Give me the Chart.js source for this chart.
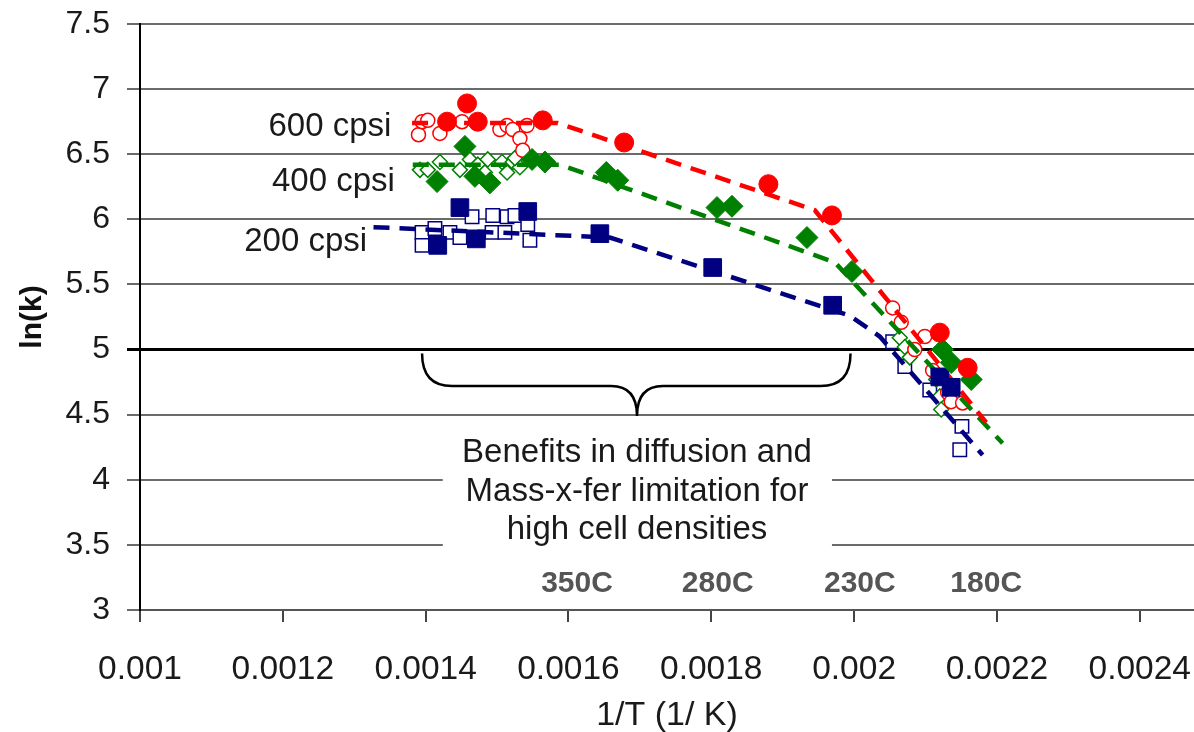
<!DOCTYPE html>
<html>
<head>
<meta charset="utf-8">
<script src="https://cdn.jsdelivr.net/npm/chart.js@4.4.1/dist/chart.umd.min.js"></script>
<style>
  html, body { margin: 0; padding: 0; background: #fff; overflow: hidden; }
  #wrap { width: 1194px; height: 732px; }
</style>
</head>
<body>
<div id="wrap"><canvas id="arrhenius"></canvas></div>
<script>
// values: x = 1/T (1/K), y = ln(k)
const red600SolidX = [0.00143, 0.001458, 0.001473, 0.001564, 0.001678, 0.00188, 0.001969, 0.00212, 0.002159];
const red600SolidY = [6.75, 6.89, 6.75, 6.76, 6.59, 6.27, 6.03, 5.13, 4.86];
const red600OpenX = [0.00139, 0.001395, 0.001403, 0.00142, 0.001451, 0.001504, 0.001514, 0.001522, 0.001532, 0.001536, 0.001542,
                     0.002054, 0.002066, 0.002099, 0.002085, 0.00211, 0.002131, 0.002136, 0.002152];
const red600OpenY = [6.65, 6.75, 6.76, 6.66, 6.75, 6.69, 6.72, 6.69, 6.62, 6.53, 6.72,
                     5.32, 5.21, 5.10, 5.00, 4.84, 4.67, 4.60, 4.59];
const red600FitX = [0.001381, 0.001585, 0.001945, 0.002185];
const red600FitY = [6.74, 6.74, 6.07, 4.44];

const green400SolidX = [0.001455, 0.001416, 0.001469, 0.00149, 0.001549, 0.001567, 0.001653, 0.001669, 0.001808, 0.001829,
                        0.001934, 0.001997, 0.002124, 0.002136, 0.002164];
const green400SolidY = [6.56, 6.29, 6.33, 6.28, 6.46, 6.44, 6.36, 6.30, 6.09, 6.10, 5.86, 5.60, 5.00, 4.90, 4.77];
const green400OpenX = [0.001392, 0.001403, 0.00142, 0.001448, 0.001462, 0.001473, 0.001487, 0.001483, 0.001507, 0.001514,
                       0.001522, 0.001532, 0.001525, 0.002064, 0.002071, 0.002078, 0.002115, 0.00212, 0.002122];
const green400OpenY = [6.38, 6.38, 6.44, 6.38, 6.46, 6.42, 6.46, 6.36, 6.44, 6.36, 6.44, 6.40, 6.47, 5.09, 5.02, 4.94, 4.77, 4.64, 4.54];
const green400FitX = [0.001382, 0.001588, 0.001973, 0.002208];
const green400FitY = [6.42, 6.42, 5.67, 4.28];

const blue200SolidX = [0.001448, 0.001417, 0.001471, 0.001543, 0.001644, 0.001802, 0.00197, 0.00212, 0.002136];
const blue200SolidY = [6.09, 5.80, 5.85, 6.06, 5.89, 5.63, 5.34, 4.79, 4.71];
const blue200OpenX = [0.001395, 0.001395, 0.001413, 0.001434, 0.001448, 0.001465, 0.001494, 0.001514, 0.001493, 0.001511,
                      0.001525, 0.001543, 0.001546, 0.002054, 0.002071, 0.002106, 0.002151, 0.002148];
const blue200OpenY = [5.90, 5.80, 5.93, 5.90, 5.86, 6.02, 6.03, 6.02, 5.90, 5.90, 6.03, 5.96, 5.84, 5.06, 4.87, 4.69, 4.41, 4.23];
const blue200FitX = [0.001327, 0.001658, 0.001994, 0.002036, 0.00218];
const blue200FitY = [5.94, 5.86, 5.26, 5.10, 4.19];

// text placed on the plot (data coordinates)
const seriesLabels = ['600 cpsi', '400 cpsi', '200 cpsi'];
const seriesLabelX = [0.001352, 0.001357, 0.001318];
const seriesLabelY = [6.71, 6.29, 5.83];
const tempLabels = ['350C', '280C', '230C', '180C'];
const tempLabelX = [0.001612, 0.001809, 0.002008, 0.002185];
const tempLabelY = 3.2;
const noteLines = ['Benefits in diffusion and', 'Mass-x-fer limitation for', 'high cell densities'];

const FONT = "'Liberation Sans', Arial, sans-serif";
const RED = '#ff0000', GREEN = '#008000', NAVY = '#000080';

function pts(xs, ys) {
    return xs.map((x, i) => ({ x: x, y: ys[i] }));
}

function markers(xs, ys, color, style, r, filled, order) {
    return {
        data: pts(xs, ys),
        pointStyle: style,
        pointRadius: r,
        pointBackgroundColor: filled ? color : '#fff',
        pointBorderColor: color,
        pointBorderWidth: filled ? 1 : 1.5,
        showLine: false,
        order: order
    };
}

function fit(xs, ys, color) {
    return {
        data: pts(xs, ys),
        showLine: true,
        borderColor: color,
        borderWidth: 4.5,
        borderDash: [16, 10],
        pointRadius: 0,
        fill: false,
        tension: 0,
        order: 1
    };
}

// brace, white patch and the free text
const notesPlugin = {
    id: 'notes',
    beforeDatasetsDraw(chart) {
        const { ctx, scales: { x, y } } = chart;
        ctx.save();
        ctx.fillStyle = '#fff';
        const l = x.getPixelForValue(0.001424), r = x.getPixelForValue(0.001969);
        const t = y.getPixelForValue(4.42), b = y.getPixelForValue(3.40);
        ctx.fillRect(l, t, r - l, b - t);
        ctx.restore();
    },
    afterDatasetsDraw(chart) {
        const { ctx, scales: { x, y } } = chart;
        ctx.save();

        // curly brace
        const x1 = x.getPixelForValue(0.001395), x2 = x.getPixelForValue(0.001995), xm = x.getPixelForValue(0.001696);
        const yt = y.getPixelForValue(4.97), ym = y.getPixelForValue(4.72), yb = y.getPixelForValue(4.49);
        ctx.strokeStyle = '#000';
        ctx.lineWidth = 2.5;
        ctx.beginPath();
        ctx.moveTo(x1, yt);
        ctx.quadraticCurveTo(x1, ym, x1 + 30, ym);
        ctx.lineTo(xm - 26, ym);
        ctx.quadraticCurveTo(xm, ym, xm, yb);
        ctx.quadraticCurveTo(xm, ym, xm + 26, ym);
        ctx.lineTo(x2 - 30, ym);
        ctx.quadraticCurveTo(x2, ym, x2, yt);
        ctx.stroke();

        // series names
        ctx.font = '33px ' + FONT;
        ctx.fillStyle = '#1a1a1a';
        ctx.textAlign = 'right';
        ctx.textBaseline = 'middle';
        seriesLabels.forEach((s, i) => {
            ctx.fillText(s, x.getPixelForValue(seriesLabelX[i]), y.getPixelForValue(seriesLabelY[i]));
        });

        // note under the brace
        ctx.textAlign = 'center';
        const nx = x.getPixelForValue(0.001696);
        const noteY = [4.21, 3.905, 3.615];
        noteLines.forEach((s, i) => ctx.fillText(s, nx, y.getPixelForValue(noteY[i])));

        // temperatures
        ctx.font = 'bold 30px ' + FONT;
        ctx.fillStyle = '#555';
        tempLabels.forEach((s, i) => {
            ctx.fillText(s, x.getPixelForValue(tempLabelX[i]), y.getPixelForValue(tempLabelY));
        });
        ctx.restore();
    }
};

new Chart(document.getElementById('arrhenius'), {
    type: 'scatter',
    data: {
        datasets: [
            markers(red600SolidX, red600SolidY, RED, 'circle', 9.5, true, 0),
            markers(green400SolidX, green400SolidY, GREEN, 'rectRot', 11, true, 0),
            markers(blue200SolidX, blue200SolidY, NAVY, 'rect', 12.5, true, 0),
            fit(red600FitX, red600FitY, RED),
            fit(green400FitX, green400FitY, GREEN),
            fit(blue200FitX, blue200FitY, NAVY),
            markers(red600OpenX, red600OpenY, RED, 'circle', 7, false, 2),
            markers(green400OpenX, green400OpenY, GREEN, 'rectRot', 7.5, false, 2),
            markers(blue200OpenX, blue200OpenY, NAVY, 'rect', 9.5, false, 2)
        ]
    },
    options: {
        responsive: true,
        maintainAspectRatio: false,
        animation: false,
        layout: { autoPadding: false, padding: { top: 24, right: 0, bottom: 0, left: 0 } },
        plugins: {
            legend: { display: false },
            tooltip: { enabled: false }
        },
        scales: {
            x: {
                type: 'linear',
                min: 0.001,
                max: 0.002476,
                afterFit: (scale) => {
                    scale.height = 122;
                    scale.paddingLeft = 0;
                    scale.paddingRight = 0;
                },
                ticks: {
                    stepSize: 0.0002,
                    includeBounds: false,
                    padding: 28,
                    color: '#1a1a1a',
                    font: { family: FONT, size: 33.5 },
                    callback: (v) => String(parseFloat(v.toFixed(4)))
                },
                grid: { drawOnChartArea: false, drawTicks: true, tickLength: 12, color: '#444', lineWidth: 2 },
                border: { color: '#555', width: 2 },
                title: {
                    display: true,
                    text: '1/T (1/ K)',
                    color: '#1a1a1a',
                    font: { family: FONT, size: 34 },
                    padding: { top: 0, bottom: -4 }
                }
            },
            y: {
                type: 'linear',
                min: 3,
                max: 7.5,
                afterFit: (scale) => {
                    scale.width = 140;
                    scale.paddingTop = 0;
                    scale.paddingBottom = 0;
                },
                ticks: {
                    stepSize: 0.5,
                    padding: 17,
                    color: '#1a1a1a',
                    font: { family: FONT, size: 32 },
                    callback: (v) => String(v)
                },
                grid: {
                    tickLength: 13,
                    color: (c) => c.tick && c.tick.value === 5 ? '#000' : '#6a6a6a',
                    lineWidth: (c) => c.tick && c.tick.value === 5 ? 3 : 2
                },
                border: { color: '#000', width: 2 },
                title: {
                    display: true,
                    text: 'ln(k)',
                    color: '#111',
                    font: { family: FONT, size: 30, weight: 'bold' },
                    padding: { top: 15, bottom: 0 }
                }
            }
        }
    },
    plugins: [notesPlugin]
});
</script>
</body>
</html>
